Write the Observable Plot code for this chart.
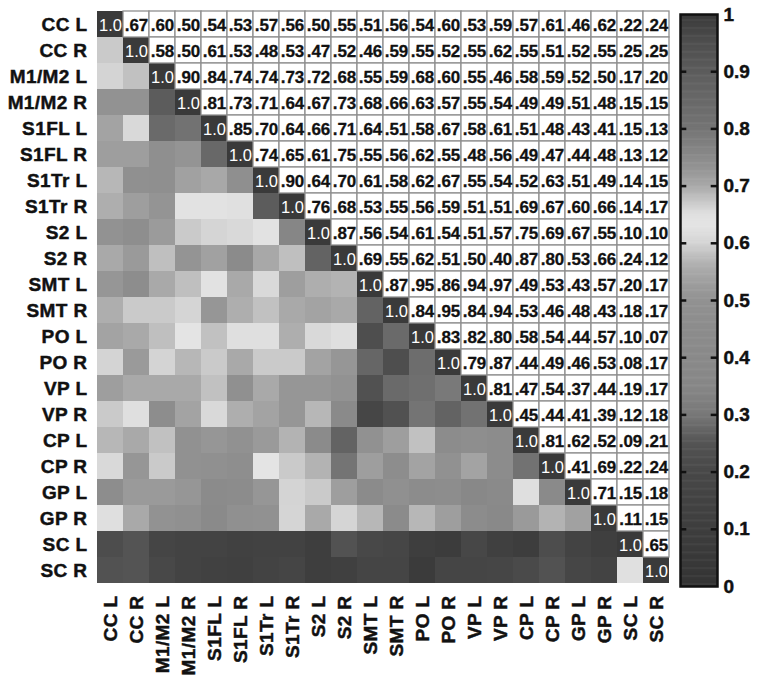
<!DOCTYPE html>
<html>
<head>
<meta charset="utf-8">
<script src="https://cdn.jsdelivr.net/npm/d3@7"></script>
<script src="https://cdn.jsdelivr.net/npm/@observablehq/plot@0.6"></script>
<style>
  html, body { margin: 0; padding: 0; background: #fff; }
  #wrap { position: relative; width: 761px; height: 681px; overflow: hidden; background: #fff; }
  #matrix { position: absolute; left: 0; top: 0; }
  #bar { position: absolute; left: 672px; top: 0; }
</style>
</head>
<body>
<div id="wrap"><div id="matrix"></div><div id="bar"></div></div>
<script>
// Region labels (rows and columns, same order)
const labels = ["CC L","CC R","M1/M2 L","M1/M2 R","S1FL L","S1FL R","S1Tr L","S1Tr R","S2 L","S2 R",
  "SMT L","SMT R","PO L","PO R","VP L","VP R","CP L","CP R","GP L","GP R","SC L","SC R"];

// Upper-triangle correlations, one array per row (values to the right of the diagonal)
const rowCC_L   = [.67,.60,.50,.54,.53,.57,.56,.50,.55,.51,.56,.54,.60,.53,.59,.57,.61,.46,.62,.22,.24];
const rowCC_R   = [.58,.50,.61,.53,.48,.53,.47,.52,.46,.59,.55,.52,.55,.62,.55,.51,.52,.55,.25,.25];
const rowM1M2_L = [.90,.84,.74,.74,.73,.72,.68,.55,.59,.68,.60,.55,.46,.58,.59,.52,.50,.17,.20];
const rowM1M2_R = [.81,.73,.71,.64,.67,.73,.68,.66,.63,.57,.55,.54,.49,.49,.51,.48,.15,.15];
const rowS1FL_L = [.85,.70,.64,.66,.71,.64,.51,.58,.67,.58,.61,.51,.48,.43,.41,.15,.13];
const rowS1FL_R = [.74,.65,.61,.75,.55,.56,.62,.55,.48,.56,.49,.47,.44,.48,.13,.12];
const rowS1Tr_L = [.90,.64,.70,.61,.58,.62,.67,.55,.54,.52,.63,.51,.49,.14,.15];
const rowS1Tr_R = [.76,.68,.53,.55,.56,.59,.51,.51,.69,.67,.60,.66,.14,.17];
const rowS2_L   = [.87,.56,.54,.61,.54,.51,.57,.75,.69,.67,.55,.10,.10];
const rowS2_R   = [.69,.55,.62,.51,.50,.40,.87,.80,.53,.66,.24,.12];
const rowSMT_L  = [.87,.95,.86,.94,.97,.49,.53,.43,.57,.20,.17];
const rowSMT_R  = [.84,.95,.84,.94,.53,.46,.48,.43,.18,.17];
const rowPO_L   = [.83,.82,.80,.58,.54,.44,.57,.10,.07];
const rowPO_R   = [.79,.87,.44,.49,.46,.53,.08,.17];
const rowVP_L   = [.81,.47,.54,.37,.44,.19,.17];
const rowVP_R   = [.45,.44,.41,.39,.12,.18];
const rowCP_L   = [.81,.62,.52,.09,.21];
const rowCP_R   = [.41,.69,.22,.24];
const rowGP_L   = [.71,.15,.18];
const rowGP_R   = [.11,.15];
const rowSC_L   = [.65];
const rowSC_R   = [];

// Colorbar tick values
const barTicks = [0, 0.1, 0.2, 0.3, 0.4, 0.5, 0.6, 0.7, 0.8, 0.9, 1];

// Grayscale colormap (style): stops and gray levels
const cmapStops = [0, .1, .2, .25, .3, .35, .45, .5, .53, .56, .6, .63, .65, .67, .7, .73, .76, .8, .85, .9, .95, 1];
const cmapGray  = [52, 62, 72, 84, 120, 135, 140, 146, 158, 174, 212, 228, 224, 202, 168, 148, 134, 116, 104, 92, 78, 58];
const colorOpts = {
  type: "linear",
  domain: cmapStops,
  range: cmapGray.map(g => `rgb(${g},${g},${g})`),
  interpolate: "rgb",
  clamp: true
};

const upperRows = [rowCC_L,rowCC_R,rowM1M2_L,rowM1M2_R,rowS1FL_L,rowS1FL_R,rowS1Tr_L,rowS1Tr_R,rowS2_L,rowS2_R,
  rowSMT_L,rowSMT_R,rowPO_L,rowPO_R,rowVP_L,rowVP_R,rowCP_L,rowCP_R,rowGP_L,rowGP_R,rowSC_L,rowSC_R];

const upper = [], lower = [], diag = [];
upperRows.forEach((vals, i) => {
  diag.push({row: labels[i], col: labels[i], v: 1});
  vals.forEach((v, k) => {
    const j = i + 1 + k;
    upper.push({row: labels[i], col: labels[j], v});
    lower.push({row: labels[j], col: labels[i], v});
  });
});

const fmt = v => d3.format(".2f")(v).replace(/^0/, "");
const font = "'Liberation Sans', Arial, Helvetica, sans-serif";

const matrix = Plot.plot({
  width: 680,
  height: 681,
  marginLeft: 93,
  marginRight: 7,
  marginTop: 7,
  marginBottom: 94,
  style: {fontFamily: font, fontSize: "18px", fontWeight: "bold", color: "#111", background: "white"},
  x: {domain: labels, padding: 0, label: null},
  y: {domain: labels, padding: 0, label: null},
  color: colorOpts,
  marks: [
    Plot.cell(lower.concat(diag), {x: "col", y: "row", fill: "v"}),
    Plot.cell(upper, {x: "col", y: "row", fill: "white", stroke: "#8f8f8f", strokeWidth: 1.3}),
    Plot.text(upper, {x: "col", y: "row", text: d => fmt(d.v), fill: "#111", stroke: "#111", strokeWidth: 0.3,
      fontSize: 17, fontWeight: "bold", dy: 1}),
    Plot.text(diag, {x: "col", y: "row", text: d => d.v.toFixed(1), fill: "white", fontSize: 16.5, fontWeight: "normal", dy: 1}),
    Plot.axisX({anchor: "bottom", tickRotate: -90, tickSize: 0, tickPadding: 8, label: null}),
    Plot.axisY({anchor: "left", tickSize: 0, tickPadding: 6, label: null})
  ]
});
matrix.querySelectorAll('g[aria-label="x-axis tick label"], g[aria-label="y-axis tick label"]')
  .forEach(g => {
    g.setAttribute("font-size", "19");
    g.style.fontSize = "19px";
    g.style.letterSpacing = "0.4px";
    g.setAttribute("stroke", "#111");
    g.setAttribute("stroke-width", "0.45");
  });
document.getElementById("matrix").appendChild(matrix);

// Colorbar ramp
const rampStep = 0.002;
const ramp = d3.range(0, 1, rampStep);
const bar = Plot.plot({
  width: 89,
  height: 681,
  marginLeft: 8,
  marginRight: 44,
  marginTop: 14,
  marginBottom: 95,
  style: {fontFamily: font, fontSize: "19px", fontWeight: "bold", color: "#111", background: "transparent"},
  x: {domain: [0, 1], axis: null},
  y: {domain: [0, 1], axis: null},
  color: colorOpts,
  marks: [
    Plot.rect(ramp, {x1: 0, x2: 1, y1: d => d, y2: d => Math.min(1, d + rampStep * 1.5), fill: d => d + rampStep / 2}),
    Plot.ruleY(barTicks.filter(t => t > 0 && t < 1), {x1: 0, x2: 0.17, stroke: "#111", strokeWidth: 2.5}),
    Plot.ruleY(barTicks.filter(t => t > 0 && t < 1), {x1: 0.83, x2: 1, stroke: "#111", strokeWidth: 2.5}),
    Plot.frame({stroke: "#111", strokeWidth: 2.5}),
    Plot.axisY({anchor: "right", ticks: barTicks, tickSize: 0, tickPadding: 6, label: null,
      tickFormat: d => (d === 0 || d === 1) ? String(d) : d.toFixed(1)})
  ]
});
bar.querySelectorAll('g[aria-label="y-axis tick label"]')
  .forEach(g => {
    g.setAttribute("font-size", "19");
    g.style.fontSize = "19px";
    g.setAttribute("stroke", "#111");
    g.setAttribute("stroke-width", "0.45");
  });
document.getElementById("bar").appendChild(bar);
</script>
</body>
</html>
